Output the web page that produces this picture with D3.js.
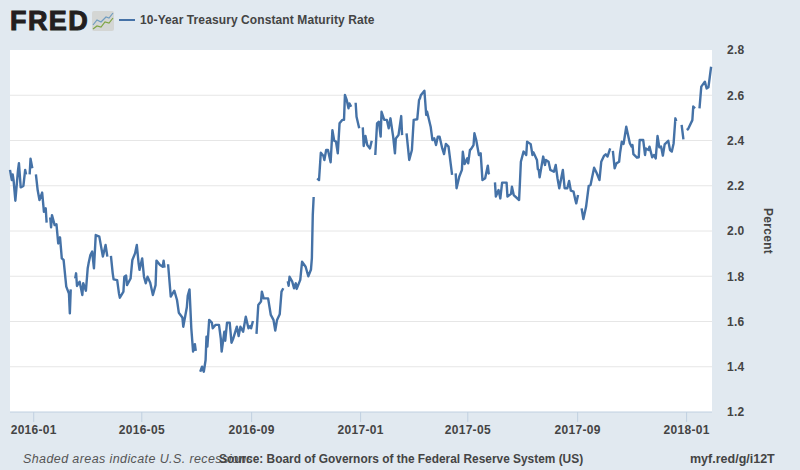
<!DOCTYPE html>
<html>
<head>
<meta charset="utf-8">
<script src="https://cdn.jsdelivr.net/npm/d3@7"></script>
<style>
  html, body { margin: 0; padding: 0; background: #e1e9f0; }
  text { font-family: "Liberation Sans", sans-serif; }
  .axis-label { font-size: 12px; font-weight: bold; fill: #444; letter-spacing: 0.3px; }
  .domain { display: none; }
</style>
</head>
<body>
<div id="chart"></div>
<script>
// 10-year treasury readings, null = holiday gap in the line
const seriesName = "10-Year Treasury Constant Maturity Rate";
const dates = [
  "2015-12-06","2015-12-08","2015-12-09","2015-12-10","2015-12-12","2015-12-15","2015-12-16","2015-12-18","2015-12-21","2015-12-23","2015-12-24","2015-12-25",
  "2015-12-28","2015-12-29","2015-12-31","2016-01-01",
  "2016-01-04","2016-01-06","2016-01-08","2016-01-11","2016-01-13","2016-01-15","2016-01-16","2016-01-18",
  "2016-01-20","2016-01-21","2016-01-22","2016-01-25","2016-01-27","2016-01-29","2016-01-31","2016-02-02","2016-02-04","2016-02-07","2016-02-10","2016-02-11","2016-02-12","2016-02-15",
  "2016-02-17","2016-02-18","2016-02-19","2016-02-22","2016-02-25","2016-02-26","2016-02-29","2016-03-02","2016-03-03","2016-03-05","2016-03-07","2016-03-09","2016-03-11","2016-03-15","2016-03-19","2016-03-22","2016-03-24","2016-03-25",
  "2016-03-28","2016-03-30","2016-03-31","2016-04-04","2016-04-06","2016-04-07","2016-04-11","2016-04-12","2016-04-14","2016-04-15","2016-04-19","2016-04-21","2016-04-24","2016-04-26","2016-04-28","2016-04-29",
  "2016-05-02","2016-05-04","2016-05-06","2016-05-08","2016-05-11","2016-05-14","2016-05-17","2016-05-18","2016-05-22","2016-05-25","2016-05-26","2016-05-27","2016-05-30",
  "2016-05-31","2016-06-03","2016-06-07","2016-06-10","2016-06-12","2016-06-16","2016-06-17","2016-06-21","2016-06-22","2016-06-24","2016-06-26","2016-06-28","2016-06-30","2016-07-01","2016-07-04",
  "2016-07-06","2016-07-08","2016-07-10","2016-07-12","2016-07-13","2016-07-14","2016-07-16","2016-07-19","2016-07-20","2016-07-23","2016-07-27","2016-07-29","2016-07-30",
  "2016-08-02","2016-08-03","2016-08-05","2016-08-08","2016-08-10","2016-08-12","2016-08-16","2016-08-18","2016-08-20","2016-08-23","2016-08-26","2016-08-29","2016-08-31","2016-09-01","2016-09-03","2016-09-05",
  "2016-09-07","2016-09-09","2016-09-12","2016-09-13","2016-09-15","2016-09-20","2016-09-23","2016-09-26","2016-09-28","2016-09-30","2016-10-03","2016-10-05","2016-10-07","2016-10-10",
  "2016-10-12","2016-10-13","2016-10-14","2016-10-17","2016-10-19","2016-10-21","2016-10-22","2016-10-26","2016-10-28","2016-11-01","2016-11-04","2016-11-07","2016-11-08","2016-11-09","2016-11-10","2016-11-11",
  "2016-11-14","2016-11-16","2016-11-18","2016-11-21","2016-11-22","2016-11-24","2016-11-26","2016-11-29","2016-12-01","2016-12-03","2016-12-05","2016-12-07","2016-12-09","2016-12-12","2016-12-14","2016-12-15","2016-12-17","2016-12-19","2016-12-20","2016-12-22","2016-12-26",
  "2016-12-27","2016-12-28","2016-12-31","2017-01-02",
  "2017-01-04","2017-01-05","2017-01-07","2017-01-09","2017-01-12","2017-01-14","2017-01-16",
  "2017-01-18","2017-01-20","2017-01-22","2017-01-24","2017-01-25","2017-01-28","2017-01-31","2017-02-02","2017-02-04","2017-02-07","2017-02-09","2017-02-10","2017-02-13","2017-02-16","2017-02-17","2017-02-20",
  "2017-02-22","2017-02-25","2017-02-28","2017-03-02","2017-03-06","2017-03-08","2017-03-09","2017-03-10","2017-03-14","2017-03-16","2017-03-17","2017-03-21","2017-03-23","2017-03-25","2017-03-27","2017-03-29","2017-03-31","2017-04-03","2017-04-05","2017-04-07","2017-04-10","2017-04-14","2017-04-15",
  "2017-04-18","2017-04-19","2017-04-22","2017-04-25","2017-04-26","2017-04-28","2017-05-01","2017-05-02","2017-05-04","2017-05-05","2017-05-08","2017-05-09","2017-05-11","2017-05-14","2017-05-16","2017-05-18","2017-05-21","2017-05-24","2017-05-25","2017-05-26","2017-05-29",
  "2017-06-01","2017-06-02","2017-06-05","2017-06-07","2017-06-09","2017-06-14","2017-06-15","2017-06-19","2017-06-20","2017-06-22","2017-06-28","2017-06-29","2017-06-30","2017-07-03","2017-07-06","2017-07-07","2017-07-11","2017-07-13","2017-07-14","2017-07-18","2017-07-19","2017-07-20","2017-07-21","2017-07-25","2017-07-27","2017-07-28","2017-07-31",
  "2017-08-02","2017-08-06","2017-08-08","2017-08-10","2017-08-12","2017-08-16","2017-08-18","2017-08-21","2017-08-23","2017-08-25","2017-08-28","2017-08-30","2017-08-31","2017-09-02","2017-09-04",
  "2017-09-06","2017-09-08","2017-09-11","2017-09-14","2017-09-16","2017-09-20","2017-09-23","2017-09-26","2017-09-28","2017-10-01","2017-10-03","2017-10-05","2017-10-08","2017-10-09",
  "2017-10-11","2017-10-13","2017-10-15","2017-10-18","2017-10-19","2017-10-21","2017-10-23","2017-10-26","2017-10-30","2017-11-01","2017-11-02","2017-11-03","2017-11-07","2017-11-09","2017-11-10","2017-11-14","2017-11-16","2017-11-17","2017-11-20","2017-11-21","2017-11-24","2017-11-26","2017-11-28","2017-11-30",
  "2017-12-02","2017-12-04","2017-12-06","2017-12-08","2017-12-12","2017-12-14","2017-12-16","2017-12-18","2017-12-20","2017-12-21","2017-12-25",
  "2017-12-27","2017-12-29","2018-01-01",
  "2018-01-02","2018-01-03","2018-01-08","2018-01-09","2018-01-11","2018-01-15",
  "2018-01-16","2018-01-18","2018-01-22","2018-01-24","2018-01-26","2018-01-29"
];
const values = [
  2.27,2.225,2.25,2.225,2.134,2.27,2.30,2.193,2.199,2.27,2.25,null,
  2.25,2.32,2.277,null,
  2.25,2.18,2.137,2.17,2.085,2.10,2.037,null,
  2.06,2.016,2.07,2.026,2.03,1.945,1.972,1.879,1.872,1.754,1.724,1.636,1.742,null,
  1.79,1.813,1.757,1.776,1.717,1.769,1.736,1.835,1.857,1.894,1.909,1.835,1.982,1.975,1.887,1.938,1.887,null,
  1.89,1.813,1.786,1.783,1.724,1.705,1.732,1.798,1.803,1.761,1.79,1.872,1.901,1.938,1.857,1.828,
  1.879,1.798,1.769,1.798,1.771,1.717,1.761,1.869,1.85,1.842,1.869,1.838,null,
  1.853,1.71,1.736,1.695,1.639,1.618,1.577,1.663,1.713,1.742,1.57,1.467,1.50,1.47,null,
  1.378,1.40,1.378,1.43,1.533,1.489,1.607,1.595,1.57,1.585,1.585,1.525,1.467,
  1.555,1.515,1.595,1.595,1.506,1.525,1.577,1.536,1.577,1.555,1.621,1.57,1.58,1.57,1.602,null,
  1.545,1.673,1.688,1.732,1.702,1.702,1.629,1.607,1.56,1.607,1.632,1.732,1.747,null,
  1.778,1.758,1.798,1.776,1.747,1.769,1.744,1.784,1.864,1.842,1.80,1.83,1.88,2.07,2.15,null,
  2.233,2.225,2.346,2.331,2.314,2.358,2.358,2.304,2.446,2.399,2.395,2.343,2.476,2.491,2.491,2.601,2.579,2.542,2.564,2.549,null,
  2.567,2.505,2.454,null,
  2.458,2.376,2.42,2.38,2.365,2.399,null,
  2.336,2.476,2.483,2.417,2.527,2.491,2.491,2.454,2.498,2.417,2.343,2.409,2.424,2.508,2.424,null,
  2.432,2.314,2.358,2.491,2.494,2.579,2.586,2.60,2.62,2.513,2.527,2.461,2.402,2.41,2.38,2.417,2.417,2.365,2.34,2.385,2.373,2.248,null,
  2.255,2.189,2.24,2.27,2.35,2.296,2.321,2.299,2.358,2.361,2.38,2.432,2.402,2.336,2.343,2.225,2.233,2.289,2.255,2.252,null,
  2.215,2.152,2.181,2.144,2.214,2.214,2.152,2.164,2.196,2.159,2.137,2.218,2.306,2.351,2.336,2.395,2.384,2.336,2.348,2.314,2.273,2.27,2.237,2.329,2.292,2.314,2.306,
  2.27,2.262,2.292,2.233,2.189,2.27,2.189,2.189,2.221,2.178,2.174,2.137,2.122,2.159,null,
  2.10,2.053,2.107,2.20,2.203,2.28,2.255,2.225,2.306,2.332,2.339,2.329,2.365,null,
  2.354,2.277,2.299,2.306,2.343,2.395,2.385,2.461,2.388,2.373,2.38,2.34,2.324,2.326,2.402,2.402,2.336,2.365,2.358,2.373,2.326,2.336,2.321,2.42,
  2.37,2.373,2.333,2.383,2.399,2.358,2.351,2.387,2.498,2.486,null,
  2.469,2.405,null,
  2.454,2.449,2.49,2.55,2.542,null,
  2.542,2.638,2.66,2.63,2.635,2.726
];
const xTicks = ["2016-01-01","2016-05-01","2016-09-01","2017-01-01","2017-05-01","2017-09-01","2018-01-01"];
const yTicks = [1.2,1.4,1.6,1.8,2.0,2.2,2.4,2.6,2.8];
const xEnd = "2018-01-30";

const width = 800, height = 470;
const margin = {top: 50, right: 88, bottom: 58, left: 10};
const innerWidth = width - margin.left - margin.right;
const innerHeight = height - margin.top - margin.bottom;
const lineColor = "#4572a7";

const parseDate = d3.utcParse("%Y-%m-%d");
const data = dates.map((d, i) => ({date: parseDate(d), value: values[i]}));

const xScale = d3.scaleUtc()
    .domain([parseDate(dates[0]), parseDate(xEnd)])
    .range([0, innerWidth]);
const yScale = d3.scaleLinear()
    .domain([1.2, 2.8])
    .range([innerHeight, 0]);

const svg = d3.select("#chart")
    .append("svg")
    .attr("width", width)
    .attr("height", height)
    .style("display", "block");

// plot background
svg.append("rect")
    .attr("x", margin.left)
    .attr("y", margin.top)
    .attr("width", innerWidth)
    .attr("height", innerHeight)
    .attr("fill", "#fff");

const innerChart = svg.append("g")
    .attr("transform", `translate(${margin.left},${margin.top})`);

// gridlines + right hand labels
const yAxisGroup = innerChart.append("g")
    .attr("transform", `translate(${innerWidth},0)`)
    .call(d3.axisRight(yScale).tickValues(yTicks).tickFormat(d3.format(".1f")).tickSize(0).tickPadding(15));
yAxisGroup.selectAll("text").attr("class", "axis-label");
innerChart.append("g")
    .selectAll("line")
    .data(yTicks.slice(1, -1))
    .join("line")
        .attr("x1", 0)
        .attr("x2", innerWidth)
        .attr("y1", d => yScale(d))
        .attr("y2", d => yScale(d))
        .attr("stroke", "#e6e6e6");

// bottom axis, ticks hang below the plot
const xAxisGroup = innerChart.append("g")
    .attr("transform", `translate(0,${innerHeight})`)
    .call(d3.axisBottom(xScale)
        .tickValues(xTicks.map(parseDate))
        .tickFormat(d3.utcFormat("%Y-%m"))
        .tickSize(10)
        .tickPadding(3));
xAxisGroup.selectAll("line").attr("stroke", "#c0d0e0");
xAxisGroup.selectAll("text").attr("class", "axis-label");
xAxisGroup.append("line")
    .attr("x1", 0)
    .attr("x2", innerWidth)
    .attr("y1", 0)
    .attr("y2", 0)
    .attr("stroke", "#c0d0e0");

// the series
const line = d3.line()
    .defined(d => d.value !== null)
    .x(d => xScale(d.date))
    .y(d => yScale(d.value));
innerChart.append("path")
    .datum(data)
    .attr("d", line)
    .attr("fill", "none")
    .attr("stroke", lineColor)
    .attr("stroke-width", 2.4)
    .attr("stroke-linejoin", "round");

// y axis title
svg.append("text")
    .attr("class", "axis-label")
    .attr("transform", "translate(764,231) rotate(90)")
    .attr("text-anchor", "middle")
    .text("Percent");

// FRED logo
svg.append("text")
    .attr("x", 10)
    .attr("y", 30)
    .attr("font-size", 27)
    .attr("font-weight", "bold")
    .attr("letter-spacing", 1.4)
    .attr("fill", "#231f20")
    .attr("stroke", "#231f20")
    .attr("stroke-width", 1)
    .text("FRED");
const icon = svg.append("g").attr("transform", "translate(92,11)");
icon.append("rect")
    .attr("width", 22)
    .attr("height", 20)
    .attr("rx", 2)
    .attr("fill", "#d4d6d4");
icon.append("path")
    .attr("d", "M1,14L5,9L9,11L14,6L17,7L21,2")
    .attr("fill", "none")
    .attr("stroke", "#6f9cc0")
    .attr("stroke-width", 1.2);
icon.append("path")
    .attr("d", "M1,18L5,15L9,16L13,11L17,12L21,7")
    .attr("fill", "none")
    .attr("stroke", "#7fa544")
    .attr("stroke-width", 1.2);

// legend
svg.append("line")
    .attr("x1", 119)
    .attr("x2", 135)
    .attr("y1", 20)
    .attr("y2", 20)
    .attr("stroke", lineColor)
    .attr("stroke-width", 2);
svg.append("text")
    .attr("x", 140)
    .attr("y", 24)
    .attr("font-size", 12)
    .attr("font-weight", "bold")
    .attr("letter-spacing", 0.1)
    .attr("fill", "#444")
    .text(seriesName);

// footer notes
svg.append("text")
    .attr("x", 23)
    .attr("y", 463)
    .attr("font-size", 12.5)
    .attr("font-style", "italic")
    .attr("fill", "#555")
    .attr("letter-spacing", 0.4)
    .text("Shaded areas indicate U.S. recessions");
svg.append("text")
    .attr("x", 219)
    .attr("y", 463)
    .attr("font-size", 11.9)
    .attr("font-weight", "bold")
    .attr("fill", "#444")
    .text("Source: Board of Governors of the Federal Reserve System (US)");
svg.append("text")
    .attr("x", 690)
    .attr("y", 463)
    .attr("font-size", 12.5)
    .attr("font-weight", "bold")
    .attr("fill", "#444")
    .text("myf.red/g/i12T");
</script>
</body>
</html>
